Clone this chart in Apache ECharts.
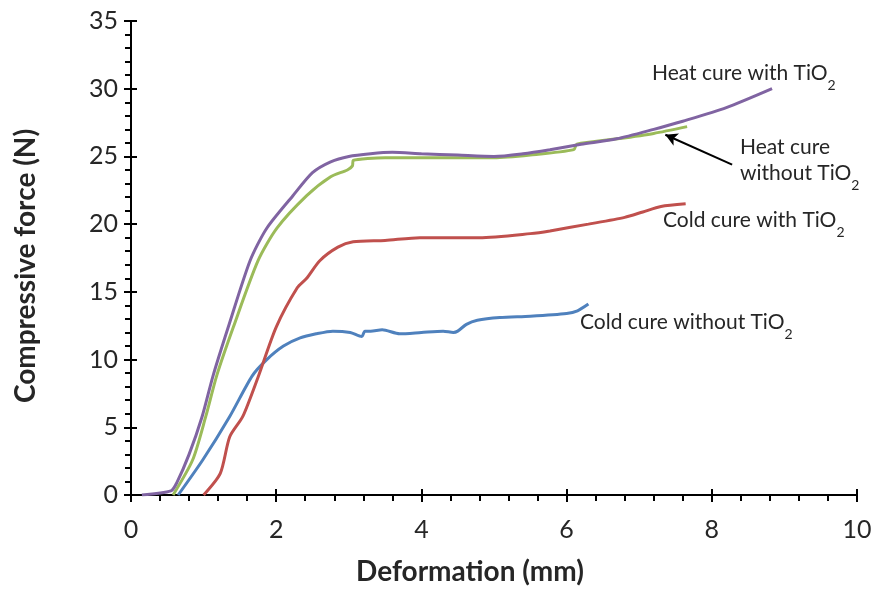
<!DOCTYPE html>
<html><head><meta charset="utf-8">
<script src="https://cdn.jsdelivr.net/npm/echarts@6/dist/echarts.min.js"></script>
<style>html,body{margin:0;padding:0;background:#fff}#c{width:876px;height:591px}</style>
</head><body><div id="c"></div>
<script>
const heatWithX = [0.15, 0.55, 0.63, 0.8, 0.98, 1.13, 1.34, 1.64, 1.87, 2.23, 2.5, 2.75, 3.0, 3.3, 3.6, 4.0, 4.5, 5.0, 5.4, 5.77, 6.2, 6.69, 7.2, 7.6, 8.2, 8.83];
const heatWithY = [0, 0.3, 0.9, 3.0, 5.8, 8.8, 12.4, 17.3, 19.7, 22.1, 23.8, 24.6, 25.0, 25.2, 25.3, 25.2, 25.1, 25.0, 25.2, 25.5, 25.9, 26.3, 27.0, 27.6, 28.6, 30.0];
const heatWithoutX = [0.58, 0.85, 1.03, 1.18, 1.41, 1.75, 2.01, 2.42, 2.75, 2.98, 3.05, 3.06, 3.5, 4.0, 4.5, 5.0, 5.5, 6.1, 6.14, 6.7, 7.2, 7.66];
const heatWithoutY = [0, 2.6, 5.8, 8.8, 12.4, 17.3, 19.7, 22.1, 23.5, 24.0, 24.3, 24.7, 24.9, 24.9, 24.9, 24.9, 25.1, 25.5, 25.9, 26.3, 26.7, 27.2];
const coldWithX = [1.0, 1.23, 1.36, 1.54, 1.75, 2.0, 2.29, 2.42, 2.6, 2.85, 3.06, 3.5, 3.98, 4.8, 5.5, 5.77, 6.3, 6.8, 7.05, 7.3, 7.64];
const coldWithY = [0, 1.6, 4.3, 5.8, 8.7, 12.4, 15.3, 16.0, 17.3, 18.3, 18.7, 18.8, 19.0, 19.0, 19.3, 19.5, 20.0, 20.5, 20.9, 21.3, 21.5];
const coldWithoutX = [0.65, 0.99, 1.36, 1.67, 1.87, 2.1, 2.33, 2.55, 2.78, 3.02, 3.18, 3.2, 3.22, 3.3, 3.46, 3.7, 4.0, 4.3, 4.44, 4.5, 4.62, 4.77, 5.08, 5.5, 6.0, 6.15, 6.3];
const coldWithoutY = [0, 2.6, 5.8, 8.8, 10.0, 11.0, 11.6, 11.9, 12.1, 12.0, 11.7, 11.9, 12.1, 12.1, 12.2, 11.9, 12.0, 12.1, 12.0, 12.1, 12.6, 12.9, 13.1, 13.2, 13.4, 13.6, 14.1];
const arrowFrom = [8.28, 24.4];
const arrowTo = [7.36, 26.6];
const xTicks = [0, 2, 4, 6, 8, 10];
const yTicks = [0, 5, 10, 15, 20, 25, 30, 35];

const zip = (xs, ys) => xs.map((x, i) => [x, ys[i]]);
const FONT = 'Lato, "Open Sans", sans-serif';
const TXT = '#262626';
const chart = echarts.init(document.getElementById('c'), null, {renderer: 'canvas'});
const axisCommon = {
  axisLine: {show: true, lineStyle: {color: '#000', width: 2}},
  splitLine: {show: false}
};
function mk(name, xs, ys, color, extra) {
  return Object.assign({
    name, type: 'line', data: zip(xs, ys), showSymbol: false, symbol: 'none', smooth: 0.25,
    lineStyle: {color, width: 3}, itemStyle: {color}, z: 3
  }, extra || {});
}
const sub = {s: {fontSize: 14, verticalAlign: 'bottom', padding: [0, 0, -8, 0], fontFamily: FONT, fill: TXT}};
function lbl(x, y, t) {
  return {type: 'text', left: x, top: y, style: {text: t, rich: sub, fontSize: 21, fontFamily: FONT, fill: TXT}};
}
chart.setOption({
  animation: false,
  grid: {left: 131, right: 19, top: 21, bottom: 92, containLabel: false},
  xAxis: [{
    type: 'value', min: 0, max: 10, interval: 2,
    ...axisCommon,
    axisTick: {show: true, inside: false, length: 7, lineStyle: {color: '#000', width: 2}},
    minorTick: {show: true, splitNumber: 5, length: 6, lineStyle: {color: '#000', width: 2}},
    axisLabel: {color: TXT, fontSize: 25, fontFamily: FONT, margin: 22,
      formatter: v => xTicks.includes(v) ? String(v) : ''},
    name: 'Deformation (mm)', nameLocation: 'middle', nameGap: 63,
    nameTextStyle: {fontSize: 28, fontWeight: 'bold', color: TXT, fontFamily: FONT, padding: [0, 48, 0, 0]}
  }, {
    type: 'value', min: 0, max: 10, interval: 2, position: 'bottom',
    ...axisCommon,
    axisTick: {show: true, inside: true, length: 6, lineStyle: {color: '#000', width: 2}},
    axisLabel: {show: false}
  }],
  yAxis: [{
    type: 'value', min: 0, max: 35, interval: 5,
    ...axisCommon,
    axisTick: {show: true, inside: false, length: 7, lineStyle: {color: '#000', width: 2}},
    minorTick: {show: true, splitNumber: 5, length: 6, lineStyle: {color: '#000', width: 2}},
    axisLabel: {color: TXT, fontSize: 25, fontFamily: FONT, margin: 13,
      formatter: v => yTicks.includes(v) ? String(v) : ''},
    name: 'Compressive force (N)', nameLocation: 'middle', nameGap: 91, nameRotate: 90,
    nameTextStyle: {fontSize: 28, fontWeight: 'bold', color: TXT, fontFamily: FONT, padding: [0, 16, 0, 0]}
  }, {
    type: 'value', min: 0, max: 35, interval: 5, position: 'left',
    ...axisCommon,
    axisTick: {show: true, inside: true, length: 6, lineStyle: {color: '#000', width: 2}},
    axisLabel: {show: false}
  }],
  series: [
    mk('Cold cure without TiO2', coldWithoutX, coldWithoutY, '#4F81BD'),
    mk('Cold cure with TiO2', coldWithX, coldWithY, '#C0504D'),
    mk('Heat cure without TiO2', heatWithoutX, heatWithoutY, '#9BBB59', {
      markLine: {
        silent: true, symbol: ['none', 'arrow'], symbolSize: [10, 12],
        lineStyle: {color: '#000', width: 2, type: 'solid'}, label: {show: false},
        data: [[{coord: arrowFrom}, {coord: arrowTo}]]
      }
    }),
    mk('Heat cure with TiO2', heatWithX, heatWithY, '#8064A2')
  ],
  graphic: [
    lbl(652, 63, 'Heat cure with TiO{s|2}'),
    lbl(740, 137, 'Heat cure'),
    lbl(740, 163, 'without TiO{s|2}'),
    lbl(663, 210, 'Cold cure with TiO{s|2}'),
    lbl(580, 312, 'Cold cure without TiO{s|2}')
  ]
});
</script></body></html>
